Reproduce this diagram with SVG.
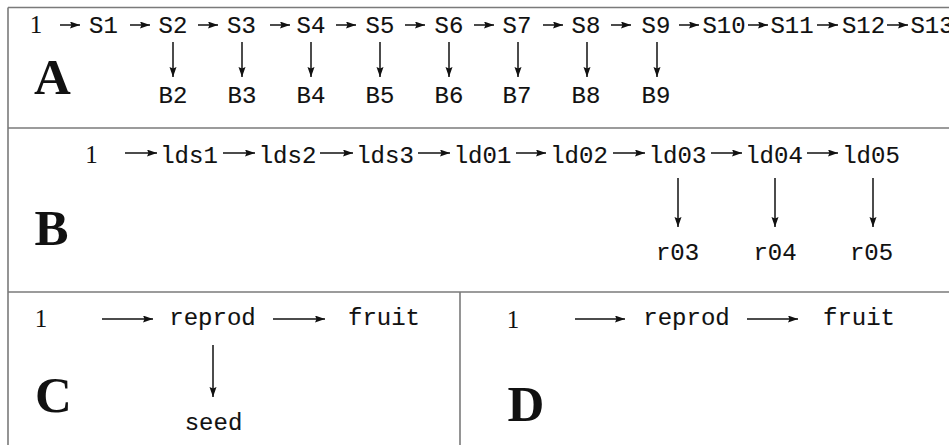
<svg xmlns="http://www.w3.org/2000/svg" width="949" height="445" viewBox="0 0 949 445">
  <style>
    .frame { stroke: #7a7a7a; stroke-width: 1.6; fill: none; }
    .tt { font-family: "Liberation Mono", "DejaVu Sans Mono", monospace; font-size: 24px; fill: #111; text-anchor: middle; stroke: #111; stroke-width: 0.12; }
    .rm { font-family: "Liberation Serif", "DejaVu Serif", serif; font-size: 25px; fill: #111; text-anchor: middle; }
    .big { font-family: "Liberation Serif", "DejaVu Serif", serif; font-size: 51px; font-weight: bold; fill: #111; text-anchor: middle; }
    .arr { stroke: #111; stroke-width: 1.5; fill: none; marker-end: url(#head); }
  </style>
  <defs>
    <marker id="head" markerUnits="userSpaceOnUse" markerWidth="11" markerHeight="8" refX="10" refY="3.5" orient="auto">
      <path d="M0,0 L10,3.5 L0,7 L1.5,3.5 z" fill="#111"/>
    </marker>
  </defs>
  <rect width="949" height="445" fill="#fff"/>

  <!-- panel frames -->
  <g id="frames">
    <line class="frame" x1="8" y1="7.5" x2="949" y2="7.5"/>
    <line class="frame" x1="8" y1="7.5" x2="8" y2="445"/>
    <line class="frame" x1="8" y1="128" x2="949" y2="128"/>
    <line class="frame" x1="8" y1="292" x2="949" y2="292"/>
    <line class="frame" x1="460" y1="292" x2="460" y2="445"/>
  </g>

  <!-- panel letters -->
  <g id="panel-labels">
    <text class="big" x="52.5" y="94">A</text>
    <text class="big" x="51.5" y="245">B</text>
    <text class="big" x="53.5" y="412">C</text>
    <text class="big" x="526" y="421">D</text>
  </g>

  <!-- panel A nodes -->
  <g id="a-1"><text class="rm" x="36" y="33">1</text></g>
  <g id="a-S1"><text class="tt" x="103.5" y="33">S1</text></g>
  <g id="a-S2"><text class="tt" x="173" y="33">S2</text></g>
  <g id="a-S3"><text class="tt" x="241.5" y="33">S3</text></g>
  <g id="a-S4"><text class="tt" x="311" y="33">S4</text></g>
  <g id="a-S5"><text class="tt" x="380" y="33">S5</text></g>
  <g id="a-S6"><text class="tt" x="449" y="33">S6</text></g>
  <g id="a-S7"><text class="tt" x="517" y="33">S7</text></g>
  <g id="a-S8"><text class="tt" x="586" y="33">S8</text></g>
  <g id="a-S9"><text class="tt" x="656" y="33">S9</text></g>
  <g id="a-S10"><text class="tt" x="724" y="33">S10</text></g>
  <g id="a-S11"><text class="tt" x="792" y="33">S11</text></g>
  <g id="a-S12"><text class="tt" x="863.5" y="33">S12</text></g>
  <g id="a-S13"><text class="tt" x="932" y="33">S13</text></g>
  <g id="a-B2"><text class="tt" x="173" y="103">B2</text></g>
  <g id="a-B3"><text class="tt" x="242" y="103">B3</text></g>
  <g id="a-B4"><text class="tt" x="311" y="103">B4</text></g>
  <g id="a-B5"><text class="tt" x="380" y="103">B5</text></g>
  <g id="a-B6"><text class="tt" x="449" y="103">B6</text></g>
  <g id="a-B7"><text class="tt" x="517" y="103">B7</text></g>
  <g id="a-B8"><text class="tt" x="586" y="103">B8</text></g>
  <g id="a-B9"><text class="tt" x="656" y="103">B9</text></g>

  <!-- panel B nodes -->
  <g id="b-1"><text class="rm" x="91.5" y="163">1</text></g>
  <g id="b-lds1"><text class="tt" x="189" y="163">lds1</text></g>
  <g id="b-lds2"><text class="tt" x="287.5" y="163">lds2</text></g>
  <g id="b-lds3"><text class="tt" x="385" y="163">lds3</text></g>
  <g id="b-ld01"><text class="tt" x="482.5" y="163">ld01</text></g>
  <g id="b-ld02"><text class="tt" x="579" y="163">ld02</text></g>
  <g id="b-ld03"><text class="tt" x="677.5" y="163">ld03</text></g>
  <g id="b-ld04"><text class="tt" x="774" y="163">ld04</text></g>
  <g id="b-ld05"><text class="tt" x="871" y="163">ld05</text></g>
  <g id="b-r03"><text class="tt" x="677.5" y="260">r03</text></g>
  <g id="b-r04"><text class="tt" x="775" y="260">r04</text></g>
  <g id="b-r05"><text class="tt" x="871.5" y="260">r05</text></g>

  <!-- panel C nodes -->
  <g id="c-1"><text class="rm" x="41" y="327">1</text></g>
  <g id="c-reprod"><text class="tt" x="212.5" y="325">reprod</text></g>
  <g id="c-fruit"><text class="tt" x="384" y="325">fruit</text></g>
  <g id="c-seed"><text class="tt" x="213.5" y="430">seed</text></g>

  <!-- panel D nodes -->
  <g id="d-1"><text class="rm" x="513" y="328">1</text></g>
  <g id="d-reprod"><text class="tt" x="686.5" y="325">reprod</text></g>
  <g id="d-fruit"><text class="tt" x="859" y="325">fruit</text></g>

  <!-- connectors -->
  <g id="connectors">
    <!-- A: chain -->
    <line class="arr" x1="60" y1="25" x2="80" y2="25"/>
    <line class="arr" x1="130" y1="25" x2="150" y2="25"/>
    <line class="arr" x1="198" y1="25" x2="218" y2="25"/>
    <line class="arr" x1="270" y1="25" x2="290" y2="25"/>
    <line class="arr" x1="336" y1="25" x2="356" y2="25"/>
    <line class="arr" x1="405" y1="25" x2="425" y2="25"/>
    <line class="arr" x1="474" y1="25" x2="494" y2="25"/>
    <line class="arr" x1="543" y1="25" x2="563" y2="25"/>
    <line class="arr" x1="611" y1="25" x2="631" y2="25"/>
    <line class="arr" x1="679" y1="25" x2="699" y2="25"/>
    <line class="arr" x1="748" y1="25" x2="768" y2="25"/>
    <line class="arr" x1="817" y1="25" x2="838" y2="25"/>
    <line class="arr" x1="887" y1="25" x2="908" y2="25"/>
    <!-- A: branches -->
    <line class="arr" x1="173" y1="42" x2="173" y2="77"/>
    <line class="arr" x1="242" y1="42" x2="242" y2="77"/>
    <line class="arr" x1="311" y1="42" x2="311" y2="77"/>
    <line class="arr" x1="380" y1="42" x2="380" y2="77"/>
    <line class="arr" x1="449" y1="42" x2="449" y2="77"/>
    <line class="arr" x1="518" y1="42" x2="518" y2="77"/>
    <line class="arr" x1="587" y1="42" x2="587" y2="77"/>
    <line class="arr" x1="657" y1="42" x2="657" y2="77"/>
    <!-- B: chain -->
    <line class="arr" x1="125" y1="153" x2="157" y2="153"/>
    <line class="arr" x1="223" y1="153" x2="255" y2="153"/>
    <line class="arr" x1="320" y1="153" x2="353" y2="153"/>
    <line class="arr" x1="418" y1="153" x2="450" y2="153"/>
    <line class="arr" x1="516" y1="153" x2="546" y2="153"/>
    <line class="arr" x1="613" y1="153" x2="645" y2="153"/>
    <line class="arr" x1="711" y1="153" x2="742" y2="153"/>
    <line class="arr" x1="807" y1="153" x2="838" y2="153"/>
    <!-- B: branches -->
    <line class="arr" x1="678" y1="178" x2="678" y2="227"/>
    <line class="arr" x1="775" y1="178" x2="775" y2="227"/>
    <line class="arr" x1="873" y1="178" x2="873" y2="227"/>
    <!-- C -->
    <line class="arr" x1="102" y1="319" x2="153" y2="319"/>
    <line class="arr" x1="273" y1="319" x2="325" y2="319"/>
    <line class="arr" x1="213" y1="345" x2="213" y2="397"/>
    <!-- D -->
    <line class="arr" x1="575" y1="319" x2="625" y2="319"/>
    <line class="arr" x1="747" y1="319" x2="798" y2="319"/>
  </g>
</svg>
